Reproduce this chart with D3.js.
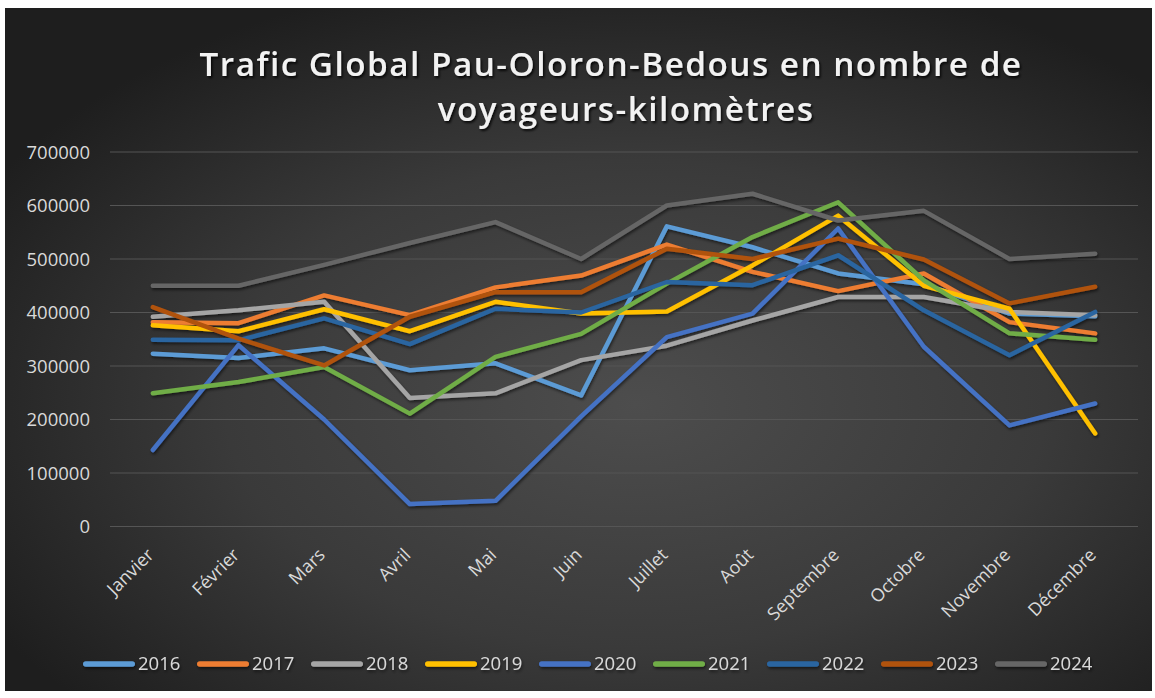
<!DOCTYPE html>
<html>
<head>
<meta charset="utf-8">
<script src="https://cdn.jsdelivr.net/npm/d3@7"></script>
<style>
  html, body { margin: 0; padding: 0; background: #ffffff; }
  svg { display: block; }
</style>
</head>
<body>
<svg id="chart" width="1155" height="698"></svg>
<script>
const months = ["Janvier","Février","Mars","Avril","Mai","Juin","Juillet","Août","Septembre","Octobre","Novembre","Décembre"];
const years = ["2016","2017","2018","2019","2020","2021","2022","2023","2024"];
const yTicks = [0,100000,200000,300000,400000,500000,600000,700000];
const v2016 = [323000,315000,333000,292000,305000,245000,561000,522000,473000,453000,398000,393000];
const v2017 = [382000,380000,432000,395000,447000,469000,527000,476000,440000,473000,382000,361000];
const v2018 = [392000,404000,420000,240000,249000,311000,338000,385000,429000,429000,401000,395000];
const v2019 = [376000,365000,406000,365000,420000,398000,402000,488000,581000,450000,407000,174000];
const v2020 = [143000,339000,200000,42000,48000,206000,354000,398000,557000,336000,189000,230000];
const v2021 = [249000,270000,298000,211000,317000,360000,454000,541000,606000,460000,361000,349000];
const v2022 = [349000,348000,389000,341000,407000,400000,457000,451000,507000,404000,320000,401000];
const v2023 = [410000,351000,301000,392000,438000,438000,519000,500000,538000,499000,417000,448000];
const v2024 = [450000,450000,489000,530000,569000,500000,600000,622000,572000,590000,500000,510000];
const colors = ["#5B9BD5","#ED7D31","#A5A5A5","#FFC000","#4472C4","#70AD47","#2A65A0","#B0520F","#666666"];

const seriesValues = [v2016,v2017,v2018,v2019,v2020,v2021,v2022,v2023,v2024];
const series = years.map((y,i)=>({name:y, values:seriesValues[i], color:colors[i]}));

const svg = d3.select("#chart");
const defs = svg.append("defs");

const grad = defs.append("radialGradient").attr("id","bg")
  .attr("cx","55%").attr("cy","58%").attr("r","65%");
grad.append("stop").attr("offset","0%").attr("stop-color","#4d4d4d");
grad.append("stop").attr("offset","55%").attr("stop-color","#3a3a3a");
grad.append("stop").attr("offset","100%").attr("stop-color","#1e1e1e");

const sh = defs.append("filter").attr("id","shadow").attr("filterUnits","userSpaceOnUse")
  .attr("x",0).attr("y",0).attr("width",1155).attr("height",698);
sh.append("feDropShadow").attr("dx",1).attr("dy",2).attr("stdDeviation",1.6)
  .attr("flood-color","#000").attr("flood-opacity",0.55);
const tsh = defs.append("filter").attr("id","tshadow").attr("filterUnits","userSpaceOnUse")
  .attr("x",0).attr("y",0).attr("width",1155).attr("height",698);
tsh.append("feDropShadow").attr("dx",1.5).attr("dy",2).attr("stdDeviation",1.2)
  .attr("flood-color","#000").attr("flood-opacity",0.8);

svg.append("rect").attr("x",5).attr("y",8).attr("width",1147).attr("height",683).attr("fill","url(#bg)");

const x = d3.scaleBand().domain(months).range([110,1138]);
const y = d3.scaleLinear().domain([0,700000]).range([526.5,152]);
const cx = m => x(m) + x.bandwidth()/2;

// gridlines
svg.append("g").selectAll("line").data(yTicks).join("line")
  .attr("x1",110).attr("x2",1138)
  .attr("y1",d=>y(d)).attr("y2",d=>y(d))
  .attr("stroke","#555555").attr("stroke-width",1);

// y axis labels
const yAxis = d3.axisLeft(y).tickValues(yTicks).tickFormat(d3.format("d")).tickSize(0).tickPadding(0);
const gy = svg.append("g").attr("transform","translate(90,0)").call(yAxis);
gy.select(".domain").remove();
gy.selectAll("text").attr("fill","#d9d9d9").attr("font-family","Open Sans").attr("font-size",18.5)
  .attr("dy","0.34em");

// x axis labels
const xAxis = d3.axisBottom(x).tickSize(0).tickPadding(0);
const gx = svg.append("g").call(xAxis);
gx.select(".domain").remove();
gx.selectAll(".tick").attr("transform",d=>`translate(${cx(d)+2},556)`);
gx.selectAll("text").attr("fill","#d9d9d9").attr("font-family","Open Sans").attr("font-size",18)
  .attr("y",0).attr("dy",0).attr("text-anchor","end").attr("transform","rotate(-45)");

// lines
const line = d3.line().x((d,i)=>cx(months[i])).y(d=>y(d));
svg.append("g").attr("filter","url(#shadow)").selectAll("path").data(series).join("path")
  .attr("d",d=>line(d.values)).attr("fill","none").attr("stroke",d=>d.color)
  .attr("stroke-width",4.5).attr("stroke-linejoin","round").attr("stroke-linecap","round");

// title
const title = svg.append("g").attr("filter","url(#tshadow)");
const t1 = title.append("text").attr("x",611).attr("y",76).attr("text-anchor","middle")
  .attr("font-family","Open Sans").attr("font-weight",600).attr("font-size",31)
  .attr("fill","#f2f2f2").attr("letter-spacing",1.5).text("Trafic Global Pau-Oloron-Bedous en nombre de");
const t2 = title.append("text").attr("x",626).attr("y",121).attr("text-anchor","middle")
  .attr("font-family","Open Sans").attr("font-weight",600).attr("font-size",31)
  .attr("fill","#f2f2f2").attr("letter-spacing",1.5).text("voyageurs-kilomètres");
const w1 = t1.node().getComputedTextLength();
const fs = 31 * 828 / w1;
t1.attr("font-size",fs); t2.attr("font-size",fs);

// legend
const lg = svg.append("g").attr("filter","url(#shadow)").selectAll("g").data(series).join("g")
  .attr("transform",(d,i)=>`translate(${83 + i*114},664)`);
lg.append("rect").attr("x",0).attr("y",-2.75).attr("width",52).attr("height",5.5).attr("rx",2.75)
  .attr("fill",d=>d.color);
lg.append("text").attr("x",55).attr("y",0).attr("dy","0.35em")
  .attr("font-family","Open Sans").attr("font-size",18.5).attr("fill","#d9d9d9").text(d=>d.name);
</script>
</body>
</html>
